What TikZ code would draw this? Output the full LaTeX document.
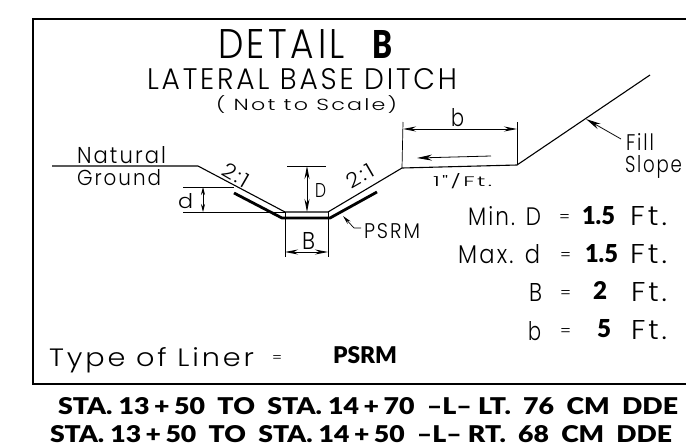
\documentclass[tikz,border=0pt]{standalone}
\usepackage{graphicx}
\usepackage{fontspec}
\usetikzlibrary{arrows.meta}
\newfontfamily\cad[LetterSpace=10]{Poppins Light}
\newfontfamily\heavy{Lato Black}
\newcommand{\fitt}[3]{\resizebox{#1pt}{#2pt}{#3}}
\tikzset{
  lbl/.style={inner sep=0pt,outer sep=0pt,anchor=base west,font=\cad},
  bld/.style={inner sep=0pt,outer sep=0pt,anchor=base west,font=\heavy},
  ground/.style={line width=1.1pt,line join=miter},
  liner/.style={line width=2.8pt,line join=miter},
  thinl/.style={line width=.7pt},
  dim/.style={line width=.8pt,{Stealth[length=13pt,width=5pt]}-{Stealth[length=13pt,width=5pt]}},
  lead/.style={line width=.8pt,-{Stealth[length=15pt,width=6pt]}}
}
\begin{document}
\begin{tikzpicture}[x=1pt,y=-1pt]
\useasboundingbox (0,0) rectangle (686,445);
\fill[white] (0,0) rectangle (686,445);
% frame
\draw[line width=1.3pt] (686,19) -- (33,19) -- (33,384) -- (686,384);
% coordinates
\coordinate (g0) at (52,166);
\coordinate (g1) at (198,166);
\coordinate (g2) at (285,212);
\coordinate (g3) at (328,212);
\coordinate (g4) at (402,168);
\coordinate (g5) at (517,165);
\coordinate (g6) at (650,75);
\coordinate (l0) at (234,193);
\coordinate (l1) at (282,218);
\coordinate (l2) at (330,218);
\coordinate (l3) at (377,192);
\draw[ground] (g0) -- (g1) -- (g2) -- (g3) -- (g4) -- (g5) -- (g6);
\draw[liner] (l0) -- (l1) -- (l2) -- (l3);
% d dimension
\coordinate (da) at (183,187);
\coordinate (db) at (183,212);
\coordinate (da1) at (203,187);
\coordinate (db1) at (203,212);
\draw[thinl] (da) -- (l0 |- da);
\draw[thinl] (db) -- (g2);
\draw[line width=.8pt,{Stealth[length=8pt,width=4pt]}-{Stealth[length=8pt,width=4pt]}] (da1) -- (db1);
% D dimension
\coordinate (Da) at (287,166);
\coordinate (Db) at (326,166);
\coordinate (Dt) at (307,166);
\coordinate (Dm) at (307,212);
\draw[thinl] (Da) -- (Db);
\draw[dim] (Dt) -- (Dm);
% B dimension
\coordinate (Ba) at (285,257);
\coordinate (Bb) at (328,257);
\coordinate (Bl) at (285,252);
\coordinate (Br) at (328,252);
\draw[thinl] (g2) -- (Ba);
\draw[thinl] (g3) -- (Bb);
\draw[dim] (Bl) -- (Br);
% b dimension
\coordinate (bt0) at (403,122);
\coordinate (bt1) at (517,122);
\coordinate (bl) at (403,129);
\coordinate (br) at (517,129);
\draw[thinl] (bt0) -- (g4);
\draw[thinl] (bt1) -- (g5);
\draw[dim] (bl) -- (br);
% flow arrow
\coordinate (fa) at (491,156);
\coordinate (fb) at (417,158);
\draw[lead] (fa) -- (fb);
% fill slope leader
\coordinate (sa) at (621,139);
\coordinate (sb) at (586,119);
\draw[lead] (sa) -- (sb);
% PSRM leader
\coordinate (pa) at (361,228);
\coordinate (pb) at (354,228);
\coordinate (pc) at (343,216);
\draw[line width=.7pt,-{Stealth[length=9pt,width=4pt]}] (pa) -- (pb) -- (pc);
% title
\node[lbl] (t1) at (218,58) {\fitt{127}{29}{DETAIL}};
\node[bld] (t1b) at (372,58) {\fitt{20}{28}{B}};
\node[lbl] (t2) at (147,89) {\fitt{310}{21}{LATERAL BASE DITCH}};
\node[lbl] (t3) at (216,110) {\fitt{181}{15}{( Not to Scale)}};
\node[lbl] (n1) at (77,163) {\fitt{89}{17}{Natural}};
\node[lbl] (n2) at (77,185) {\fitt{84}{16}{Ground}};
\node[lbl] (sd) at (178,208) {\fitt{15}{15}{d}};
\node[lbl] (sD) at (315,197) {\fitt{11}{14}{D}};
\node[lbl] (sB) at (302,249) {\fitt{13}{17}{B}};
\node[lbl] (sb2) at (451,126) {\fitt{13}{18}{b}};
\node[lbl] (ps) at (364,238) {\fitt{56}{15}{PSRM}};
\node[lbl] (ft) at (433,186) {\fitt{59}{13}{1"/Ft.}};
\node[lbl] (fl) at (626,150) {\fitt{28}{17}{Fill}};
\node[lbl] (sl) at (625,172) {\fitt{57}{17}{Slope}};
\node[lbl,rotate=-30,anchor=center] (s1) at (236,175) {\fitt{28}{15}{2:1}};
\node[lbl,rotate=30,anchor=center] (s2) at (360,176) {\fitt{28}{15}{2:1}};
% table
\node[lbl] (r1a) at (468,225) {\fitt{73}{19}{Min. D}};
\node[lbl] (r1e) at (559,222) {\fitt{11}{8}{=}};
\node[bld] (r1v) at (582,224) {\fitt{33}{18}{1.5}};
\node[lbl] (r1f) at (630,225) {\fitt{37}{19}{Ft.}};
\node[lbl] (r2a) at (458,263) {\fitt{82}{19}{Max. d}};
\node[lbl] (r2e) at (560,260) {\fitt{11}{8}{=}};
\node[bld] (r2v) at (585,262) {\fitt{33}{18}{1.5}};
\node[lbl] (r2f) at (630,263) {\fitt{37}{19}{Ft.}};
\node[lbl] (r3a) at (529,301) {\fitt{13}{18}{B}};
\node[lbl] (r3e) at (560,298) {\fitt{11}{8}{=}};
\node[bld] (r3v) at (593,299) {\fitt{14}{18}{2}};
\node[lbl] (r3f) at (631,301) {\fitt{36}{19}{Ft.}};
\node[lbl] (r4a) at (528,340) {\fitt{13}{19}{b}};
\node[lbl] (r4e) at (560,336) {\fitt{11}{8}{=}};
\node[bld] (r4v) at (597,337) {\fitt{14}{18}{5}};
\node[lbl] (r4f) at (631,339) {\fitt{36}{19}{Ft.}};
% liner
\node[lbl] (ty) at (49,366) {\fitt{205}{19}{Type of Liner}};
\node[lbl] (tye) at (272,362) {\fitt{10}{7}{=}};
\node[bld] (tyv) at (333,363) {\fitt{64}{17}{PSRM}};
% bottom lines
\node[bld] (b1) at (58,414) {\fitt{620}{17}{STA. 13\,+\,50\ \ TO\ \ STA. 14\,+\,70\ \ –L–\ LT.\ \ 76\ \ CM\ \ DDE}};
\node[bld] (b2) at (50,442) {\fitt{622}{17}{STA. 13\,+\,50\ \ TO\ \ STA. 14\,+\,50\ \ –L–\ RT.\ \ 68\ \ CM\ \ DDE}};
\end{tikzpicture}
\end{document}
